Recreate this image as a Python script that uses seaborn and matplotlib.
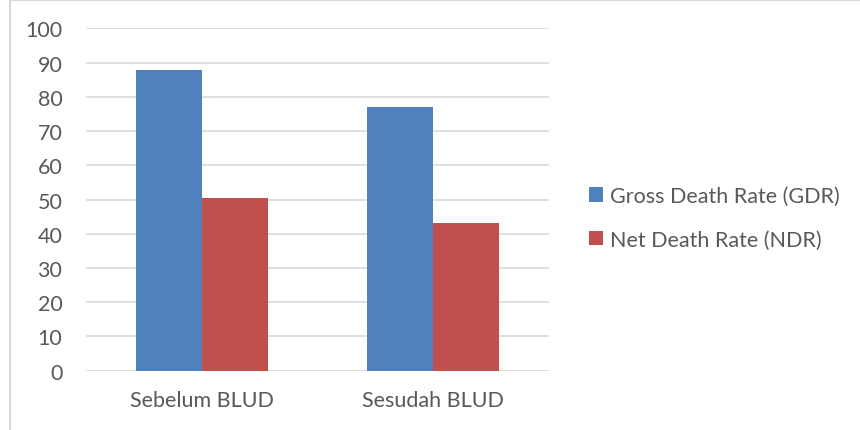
import pandas as pd
import numpy as np
import matplotlib.pyplot as plt
import seaborn as sns
from matplotlib.patches import Rectangle

# data
kategori = ["Sebelum BLUD", "Sesudah BLUD"]
seri = ["Gross Death Rate (GDR)", "Net Death Rate (NDR)"]
gdr = [88, 77]
ndr = [50.4, 43.2]

df = pd.DataFrame({
    "kategori": kategori * 2,
    "seri": [seri[0]] * 2 + [seri[1]] * 2,
    "nilai": gdr + ndr,
})

sns.set_style("white")
plt.rcParams['font.family'] = ['Lato', 'DejaVu Sans']
teks = "#595959"
fs = 15.5

fig = plt.figure(figsize=(8.6, 4.31), dpi=100)
ax = fig.add_axes([0.1, 0.138, 0.538, 0.7936])

sns.barplot(data=df, x="kategori", y="nilai", hue="seri",
            palette=["#4F81BD", "#C0504D"], width=0.57,
            linewidth=0, saturation=1, errorbar=None, ax=ax, legend=True)

ax.set_ylim(0, 100)
ax.set_xlim(-0.5, 1.5)
ax.set_yticks(np.arange(0, 101, 10))
ax.yaxis.grid(True, color="#d9d9d9", linewidth=1.2)
ax.set_axisbelow(True)
for s in ax.spines.values():
    s.set_visible(False)
ax.tick_params(axis="y", length=0, pad=17, labelsize=fs, labelcolor=teks)
ax.tick_params(axis="x", length=0, pad=14, labelsize=fs, labelcolor=teks)
ax.set_xlabel("")
ax.set_ylabel("")

h, l = ax.get_legend_handles_labels()
ax.get_legend().remove()
fig.legend(h, l, loc="center left", bbox_to_anchor=(0.685, 0.492),
           frameon=False, fontsize=fs, labelcolor=teks,
           borderpad=0, borderaxespad=0,
           handlelength=0.65, handleheight=0.65, handletextpad=0.3,
           labelspacing=1.1)

# chart frame
fig.patches.append(Rectangle((0.012, -0.01), 0.99, 1.007,
                             transform=fig.transFigure, fill=False,
                             edgecolor="#d9d9d9", linewidth=1.5))

fig.savefig("out.png", dpi=100)
